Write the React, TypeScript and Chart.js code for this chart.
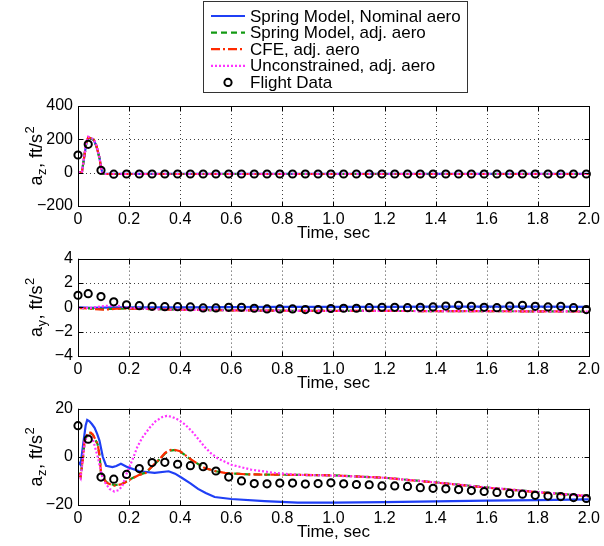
import React, { useEffect, useRef } from 'react';
import { Chart, registerables } from 'chart.js';

Chart.register(...registerables);

const FONT = '"Liberation Sans", Arial, Helvetica, sans-serif';

// ---------- Flight data (sampled) ----------
const FLIGHT_T = [0, 0.04, 0.09, 0.14, 0.19, 0.24, 0.29, 0.34, 0.39, 0.44,
  0.49, 0.54, 0.59, 0.64, 0.69, 0.74, 0.79, 0.84, 0.89, 0.94,
  0.99, 1.04, 1.09, 1.14, 1.19, 1.24, 1.29, 1.34, 1.39, 1.44,
  1.49, 1.54, 1.59, 1.64, 1.69, 1.74, 1.79, 1.84, 1.89, 1.94, 1.99];

const FLIGHT_P1 = [106, 170, 14, -9, -8, -8, -8, -8, -8, -8,
  -8, -8, -8, -8, -8, -8, -8, -8, -8, -8,
  -8, -8, -8, -8, -8, -8, -8, -8, -8, -8,
  -8, -8, -8, -8, -8, -8, -8, -8, -8, -8, -8];

const FLIGHT_P2 = [0.99, 1.12, 0.88, 0.45, 0.21, 0.13, 0.08, 0.05, 0.05, 0.03,
  -0.05, -0.05, 0, 0, -0.08, -0.13, -0.13, -0.13, -0.19, -0.19,
  -0.1, -0.08, -0.08, -0.03, 0, 0, -0.03, 0, 0.03, 0.1,
  0.16, 0.08, 0, -0.03, 0.1, 0.16, 0.08, 0.03, 0.08, -0.03, -0.19];

const FLIGHT_P3 = [12.9, 7.3, -8.4, -9.3, -7.3, -4.9, -2.4, -2.3, -3.1, -3.7,
  -4.1, -5.9, -8.4, -10, -11.1, -11.2, -10.9, -10.9, -11.3, -11.1,
  -10.8, -11.2, -11.5, -11.6, -12.1, -12.1, -12.3, -12.8, -13.1, -13.3,
  -13.6, -14, -14.4, -14.8, -15.2, -15.5, -16, -16.3, -16.5, -16.9, -17.3];

// ---------- Panel 1 simulations ----------
const P1_T = [0, 0.015, 0.025, 0.033, 0.04, 0.048, 0.062, 0.072, 0.084, 0.09, 0.095,
  0.1, 0.2, 0.4, 0.6, 0.8, 1.0, 1.2, 1.4, 1.6, 1.8, 2.0];
const P1_SPRING_NOM = [0, 0, 100, 180, 210, 206, 196, 160, 90, 35, 0,
  -7, -7, -7, -7, -7, -7, -7, -7, -7, -7, -7];
const P1_SPRING_ADJ = [0, 0, 102, 182, 212, 207, 197, 160, 88, 33, -2,
  -8, -8, -8, -8, -8, -8, -8, -8, -8, -8, -8];
const P1_CFE_ADJ = [0, 0, 102, 183, 213, 208, 198, 162, 89, 34, -2,
  -8, -8, -8, -8, -8, -8, -8, -8, -8, -8, -8];
const P1_UNC_ADJ = [0, 0, 105, 185, 216, 210, 200, 165, 92, 38, 0,
  -8, -8, -8, -8, -8, -8, -8, -8, -8, -8, -8];

// ---------- Panel 2 simulations ----------
const P2_T = [0, 0.05, 0.1, 0.15, 0.2, 0.3, 0.4, 0.6, 0.8, 1.0, 1.2, 1.4, 1.6, 1.8, 2.0];
const P2_SPRING_NOM = [0, -0.05, -0.02, 0, 0, 0, 0, 0.02, 0.03, 0.03, 0.04, 0.05, 0.05, 0.05, 0.03];
const P2_SPRING_ADJ = [-0.05, -0.1, -0.15, -0.12, -0.12, -0.15, -0.2, -0.25, -0.28, -0.3, -0.3, -0.31, -0.32, -0.33, -0.35];
const P2_CFE_ADJ = [-0.05, -0.12, -0.2, -0.12, -0.12, -0.15, -0.2, -0.25, -0.28, -0.3, -0.3, -0.31, -0.32, -0.33, -0.35];
const P2_UNC_ADJ = [-0.05, -0.05, 0.1, 0.15, -0.05, -0.15, -0.2, -0.25, -0.28, -0.3, -0.3, -0.31, -0.32, -0.33, -0.35];

// ---------- Panel 3 simulations ----------
const P3_NOM_T = [0, 0.01, 0.02, 0.03, 0.036, 0.045, 0.055, 0.065, 0.075, 0.084,
  0.097, 0.11, 0.135, 0.15, 0.168, 0.194, 0.24, 0.3, 0.355, 0.38,
  0.406, 0.44, 0.47, 0.5, 0.535, 0.6, 0.73, 0.86, 1.0, 1.2,
  1.4, 1.6, 1.8, 2.0];
const P3_SPRING_NOM = [-2, -3.3, 5, 13, 15.3, 14.7, 13.5, 12, 9.5, 6.7,
  0, -3.7, -4.3, -3.8, -2.9, -4.3, -6, -6.7, -6, -7,
  -8.7, -11, -13.3, -15, -16.7, -17.5, -18.4, -19, -19, -18.8,
  -18.5, -18.2, -18, -17.7];

const P3_ADJ_T = [0, 0.01, 0.02, 0.026, 0.039, 0.05, 0.058, 0.077, 0.085, 0.09,
  0.11, 0.142, 0.174, 0.206, 0.24, 0.265, 0.29, 0.316, 0.34, 0.355,
  0.375, 0.4, 0.445, 0.497, 0.54, 0.574, 0.665, 0.86, 1.0, 1.2,
  1.4, 1.6, 1.8, 2.0];
const P3_SPRING_ADJ = [-6.5, -8.1, 0, 6.5, 9.7, 9.8, 9.1, 5.2, 0, -6.5,
  -10.5, -11.8, -11.2, -9.2, -7.4, -6.6, -4, -1.4, 1.3, 2.5,
  2.8, 2.2, -1.4, -4.7, -6, -6.7, -7.3, -7.5, -7.7, -8.7,
  -10.6, -12.7, -14.6, -16.3];
const P3_CFE_ADJ = [-6.7, -8.3, 0, 6.7, 10, 10, 9.3, 5.3, 0, -6.7,
  -10.7, -12, -11.3, -9.3, -7.5, -6.7, -4, -1.3, 1.5, 2.7,
  3, 2.3, -1.3, -4.7, -6, -6.7, -7.3, -7.5, -7.7, -8.7,
  -10.7, -12.8, -14.7, -16.4];

const P3_UNC_T = [0, 0.01, 0.02, 0.026, 0.039, 0.05, 0.058, 0.077, 0.097, 0.123,
  0.142, 0.16, 0.174, 0.19, 0.213, 0.232, 0.252, 0.28, 0.303, 0.33,
  0.348, 0.37, 0.394, 0.42, 0.445, 0.47, 0.497, 0.52, 0.548, 0.6,
  0.677, 0.77, 0.86, 1.0, 1.2, 1.4, 1.6, 1.8, 2.0];
const P3_UNC_ADJ = [-7.3, -9, 0, 6.7, 8.7, 8.5, 7.3, 0, -9.3, -13.3,
  -14.4, -13.8, -12, -7, -1.3, 4, 8, 12, 14.7, 16.5,
  17, 16.5, 15.3, 13.3, 10.7, 7.5, 4, 1.5, -0.7, -3.3,
  -5.3, -6.7, -7.5, -7.8, -8.7, -10.6, -12.7, -14.6, -16.3];

// ---------- Axis settings ----------
const X_MIN = 0, X_MAX = 2, X_STEP = 0.2;
const P1_Y = [-200, 400, 200];
const P2_Y = [-4, 4, 2];
const P3_Y = [-20, 20, 20];

const LABELS = ['Spring Model, Nominal aero', 'Spring Model, adj. aero', 'CFE, adj. aero', 'Unconstrained, adj. aero', 'Flight Data'];
const COLORS = ['#1f3ff5', '#139a13', '#ff2a00', '#ff33ff', '#000000'];
const DASHES: number[][] = [[], [6, 4], [9, 3, 2, 3], [2, 2]];

function pts(T: number[], V: number[]) {
  return T.map((t, i) => ({ x: t, y: V[i] }));
}

function lineDs(i: number, T: number[], V: number[]) {
  return {
    label: LABELS[i],
    data: pts(T, V),
    borderColor: COLORS[i],
    backgroundColor: COLORS[i],
    borderWidth: 2.2,
    borderDash: DASHES[i],
    pointRadius: 0,
    fill: false,
    tension: 0,
    order: 5 - i,
  };
}

function flightDs(V: number[]) {
  return {
    label: LABELS[4],
    data: pts(FLIGHT_T, V),
    showLine: false,
    borderColor: '#000',
    pointRadius: 3.6,
    pointBorderWidth: 2,
    pointBorderColor: '#000',
    pointBackgroundColor: 'rgba(0,0,0,0)',
    clip: false,
    order: 0,
  };
}

function makePlugin(sub: string, legend: boolean) {
  return {
    id: 'matlabAxes',
    beforeDatasetsDraw(chart: any) {
      const { ctx, chartArea: a, scales } = chart;
      ctx.save();
      ctx.strokeStyle = 'rgba(0,0,0,0.75)';
      ctx.lineWidth = 1;
      ctx.setLineDash([1, 3]);
      for (const t of scales.x.ticks) {
        const px = Math.round(scales.x.getPixelForValue(t.value)) + 0.5;
        ctx.beginPath(); ctx.moveTo(px, a.top); ctx.lineTo(px, a.bottom); ctx.stroke();
      }
      for (const t of scales.y.ticks) {
        const py = Math.round(scales.y.getPixelForValue(t.value)) + 0.5;
        ctx.beginPath(); ctx.moveTo(a.left, py); ctx.lineTo(a.right, py); ctx.stroke();
      }
      ctx.restore();
    },
    afterDraw(chart: any) {
      const { ctx, chartArea: a, scales } = chart;
      ctx.save();
      ctx.setLineDash([]);
      ctx.strokeStyle = '#000';
      ctx.lineWidth = 1;
      const L = Math.round(a.left) + 0.5, R = Math.round(a.right) + 0.5;
      const T = Math.round(a.top) + 0.5, B = Math.round(a.bottom) + 0.5;
      ctx.strokeRect(L, T, R - L, B - T);
      const tl = 5;
      ctx.beginPath();
      for (const t of scales.x.ticks) {
        const px = Math.round(scales.x.getPixelForValue(t.value)) + 0.5;
        ctx.moveTo(px, B); ctx.lineTo(px, B - tl);
        ctx.moveTo(px, T); ctx.lineTo(px, T + tl);
      }
      for (const t of scales.y.ticks) {
        const py = Math.round(scales.y.getPixelForValue(t.value)) + 0.5;
        ctx.moveTo(L, py); ctx.lineTo(L + tl, py);
        ctx.moveTo(R, py); ctx.lineTo(R - tl, py);
      }
      ctx.stroke();

      // y-axis title with subscript and superscript
      ctx.save();
      ctx.translate(36, (a.top + a.bottom) / 2);
      ctx.rotate(-Math.PI / 2);
      ctx.fillStyle = '#000';
      ctx.textBaseline = 'alphabetic';
      const big = `18px ${FONT}`, small = `13px ${FONT}`;
      const parts = [
        { t: 'a', f: big, dy: 0, gap: 0.5 },
        { t: sub, f: small, dy: 4, gap: 0.5 },
        { t: ', ft/s', f: big, dy: 0, gap: 0.5 },
        { t: '2', f: small, dy: -8, gap: 0 },
      ];
      let total = 0;
      const widths = parts.map((p) => { ctx.font = p.f; const w = ctx.measureText(p.t).width + p.gap; total += w; return w; });
      let x = -total / 2;
      parts.forEach((p, i) => { ctx.font = p.f; ctx.fillText(p.t, x, 6 + p.dy); x += widths[i]; });
      ctx.restore();

      if (legend) {
        const bx = 203.5, by = 1.5, bw = 264, bh = 91;
        ctx.fillStyle = '#fff';
        ctx.fillRect(bx, by, bw, bh);
        ctx.strokeStyle = '#333';
        ctx.lineWidth = 1;
        ctx.strokeRect(bx, by, bw, bh);
        ctx.font = `17px ${FONT}`;
        ctx.textBaseline = 'middle';
        ctx.textAlign = 'left';
        const dsets = chart.data.datasets;
        const byLabel: any = {};
        dsets.forEach((d: any) => { byLabel[d.label] = d; });
        LABELS.forEach((lab, i) => {
          const y = 16 + i * 16.6;
          const d = byLabel[lab];
          if (i < 4) {
            ctx.strokeStyle = d.borderColor;
            ctx.lineWidth = 2.2;
            ctx.setLineDash(d.borderDash || []);
            ctx.beginPath(); ctx.moveTo(211, y); ctx.lineTo(245, y); ctx.stroke();
            ctx.setLineDash([]);
          } else {
            ctx.strokeStyle = '#000';
            ctx.lineWidth = 2;
            ctx.beginPath(); ctx.arc(228, y, 3.6, 0, Math.PI * 2); ctx.stroke();
          }
          ctx.fillStyle = '#000';
          ctx.fillText(lab, 250, y + 1);
        });
      }
      ctx.restore();
    },
  };
}

function fmtX(v: any) {
  const n = Number(v);
  return Math.abs(n) < 1e-9 ? '0' : n.toFixed(1);
}
function fmtY(v: any) {
  const n = Math.round(Number(v));
  return n < 0 ? '\u2212' + Math.abs(n) : String(n);
}

function makeConfig(datasets: any[], yr: number[], padTop: number, sub: string, legend: boolean): any {
  return {
    type: 'line',
    data: { datasets },
    options: {
      responsive: false,
      animation: false,
      events: [],
      layout: { padding: { top: padTop, right: 12, left: 0, bottom: 0 } },
      plugins: { legend: { display: false }, tooltip: { enabled: false } },
      scales: {
        x: {
          type: 'linear', min: X_MIN, max: X_MAX,
          grid: { display: false, drawTicks: false },
          border: { display: false },
          ticks: { stepSize: X_STEP, padding: 4, color: '#000', autoSkip: false, maxRotation: 0,
            font: { size: 16, family: FONT }, callback: fmtX },
          title: { display: true, text: 'Time, sec', color: '#000', font: { size: 17, family: FONT }, padding: { top: 0, bottom: 0 } },
          afterFit: (s: any) => { s.height = 38; },
        },
        y: {
          type: 'linear', min: yr[0], max: yr[1],
          grid: { display: false, drawTicks: false },
          border: { display: false },
          ticks: { stepSize: yr[2], padding: 5, color: '#000', font: { size: 16, family: FONT }, callback: fmtY },
          afterFit: (s: any) => { s.width = 78; },
        },
      },
    },
    plugins: [makePlugin(sub, legend)],
  };
}

function Panel({ top, height, config }: { top: number; height: number; config: () => any }) {
  const ref = useRef<HTMLCanvasElement>(null);
  useEffect(() => {
    const chart = new Chart(ref.current as HTMLCanvasElement, config());
    return () => chart.destroy();
  }, []);
  return (
    <div style={{ position: 'absolute', left: 0, top, width: 604, height }}>
      <canvas ref={ref} width={604} height={height} style={{ width: 604, height, display: 'block' }} />
    </div>
  );
}

export default function App() {
  const c1 = () => makeConfig([
    lineDs(0, P1_T, P1_SPRING_NOM), lineDs(1, P1_T, P1_SPRING_ADJ), lineDs(2, P1_T, P1_CFE_ADJ),
    lineDs(3, P1_T, P1_UNC_ADJ), flightDs(FLIGHT_P1),
  ], P1_Y, 106, 'z', true);
  const c2 = () => makeConfig([
    lineDs(0, P2_T, P2_SPRING_NOM), lineDs(1, P2_T, P2_SPRING_ADJ), lineDs(2, P2_T, P2_CFE_ADJ),
    lineDs(3, P2_T, P2_UNC_ADJ), flightDs(FLIGHT_P2),
  ], P2_Y, 12, 'y', false);
  const c3 = () => makeConfig([
    lineDs(0, P3_NOM_T, P3_SPRING_NOM), lineDs(1, P3_ADJ_T, P3_SPRING_ADJ), lineDs(2, P3_ADJ_T, P3_CFE_ADJ),
    lineDs(3, P3_UNC_T, P3_UNC_ADJ), flightDs(FLIGHT_P3),
  ], P3_Y, 13, 'z', false);
  return (
    <div style={{ position: 'absolute', left: 0, top: 0, width: 604, height: 546, background: '#fff' }}>
      <Panel top={0} height={244} config={c1} />
      <Panel top={244} height={150} config={c2} />
      <Panel top={394} height={149} config={c3} />
    </div>
  );
}
